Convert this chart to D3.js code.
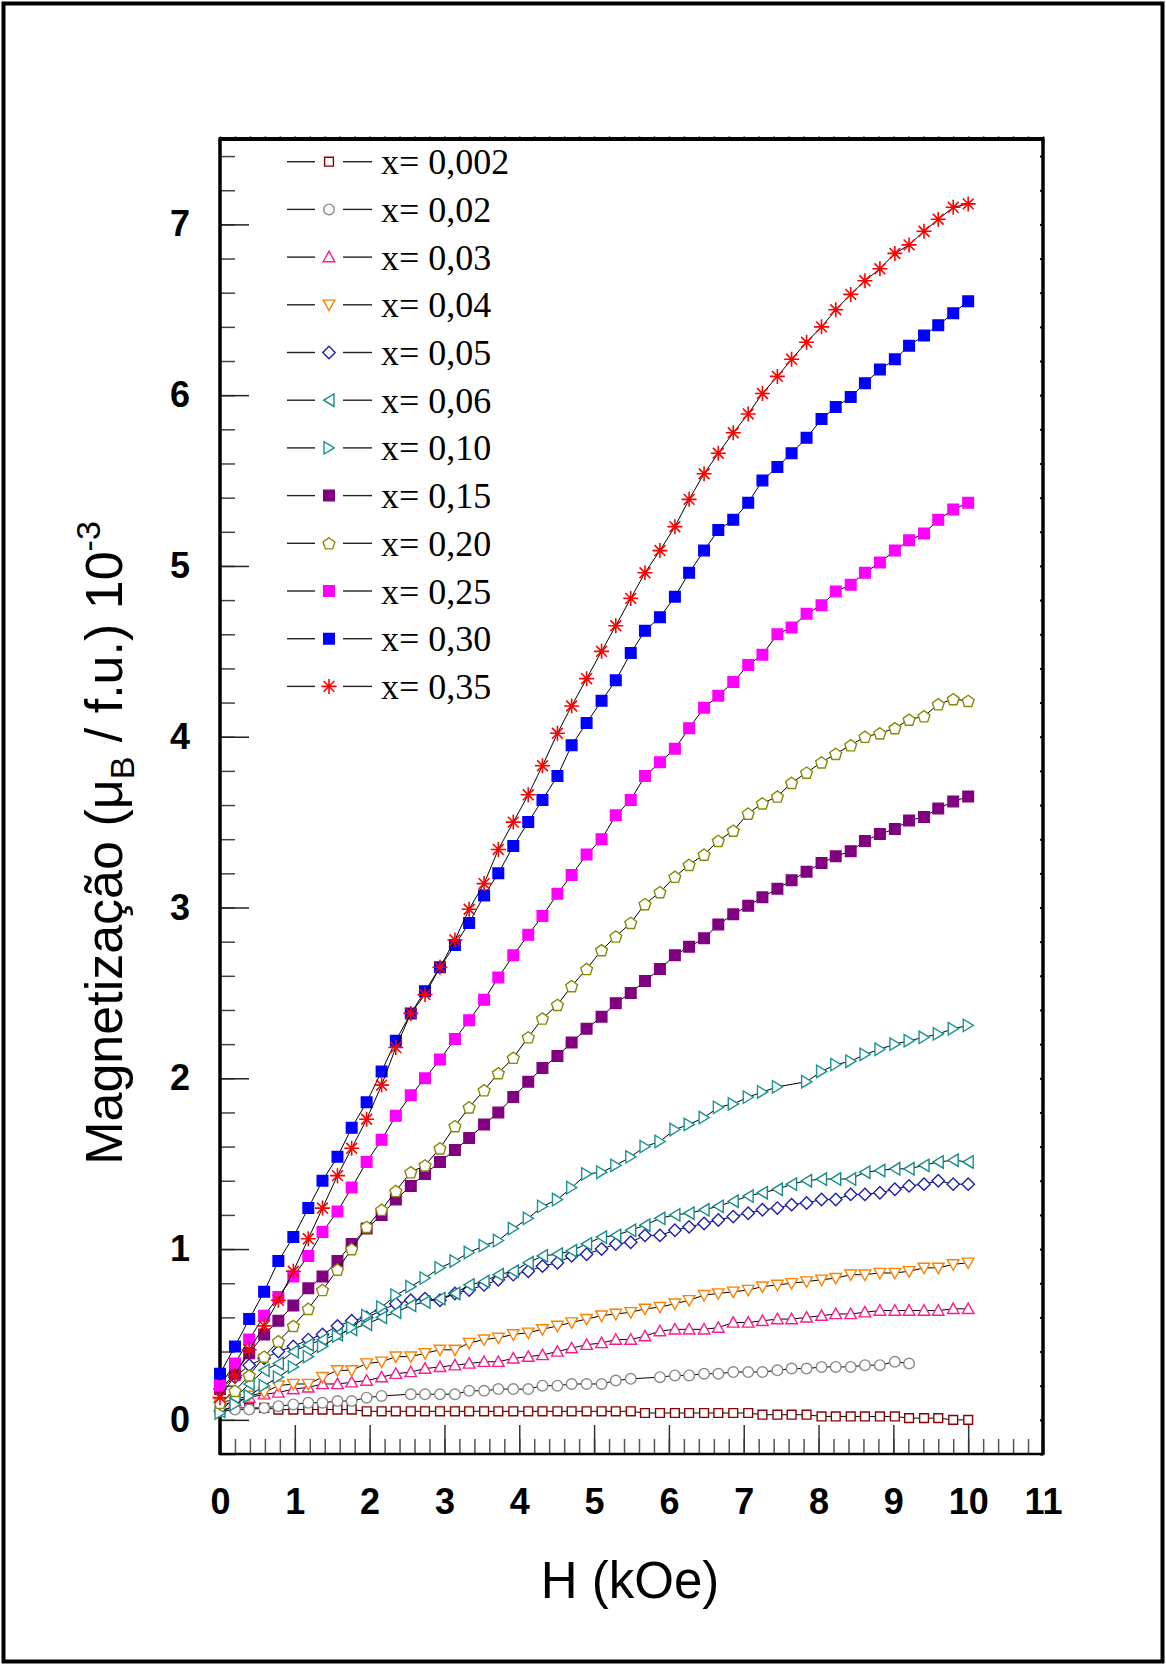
<!DOCTYPE html>
<html>
<head>
<meta charset="utf-8">
<script src="https://cdn.jsdelivr.net/npm/d3@7"></script>
<style>
  body { margin: 0; background: #fff; }
  svg { display: block; }
  .tick-label text { font-family: "Liberation Sans", Arial, sans-serif; font-weight: bold; font-size: 36px; fill: #000; }
</style>
</head>
<body>
<svg></svg>
<script>
// campo aplicado (kOe)
const field = [0.00,0.20,0.39,0.59,0.78,0.98,1.18,1.37,1.57,1.76,
  1.96,2.16,2.35,2.55,2.74,2.94,3.14,3.33,3.53,3.72,
  3.92,4.12,4.31,4.51,4.70,4.90,5.10,5.29,5.49,5.68,
  5.88,6.08,6.27,6.47,6.66,6.86,7.06,7.25,7.45,7.64,
  7.84,8.04,8.23,8.43,8.62,8.82,9.02,9.21,9.41,9.60,
  9.80,10.00];

// magnetizacao (10^-3 muB / f.u.), null = ponto ausente
const m002 = [0.06,0.07,0.07,0.07,0.06,0.06,0.06,0.06,0.06,0.06,
  0.05,0.05,0.05,0.05,0.05,0.05,0.05,0.05,0.05,0.05,
  0.05,0.05,0.05,0.05,0.05,0.05,0.05,0.05,0.05,0.04,
  0.04,0.04,0.04,0.04,0.04,0.04,0.04,0.03,0.03,0.03,
  0.03,0.02,0.02,0.02,0.02,0.02,0.02,0.01,0.01,0.01,
  0.00,0.00];
const m02 = [0.05,0.06,0.06,0.07,0.08,0.09,0.10,0.10,0.11,0.11,
  0.13,0.14,null,0.15,0.15,0.15,0.15,0.17,0.17,0.18,
  0.18,0.18,0.20,0.20,0.21,0.21,0.21,0.23,0.24,null,
  0.25,0.26,0.26,0.27,0.27,0.28,0.28,0.28,0.29,0.30,
  0.30,0.31,0.31,0.31,0.32,0.32,0.34,0.33];
const m03 = [0.08,0.11,0.13,0.15,0.16,0.18,0.19,0.21,0.21,0.22,
  0.23,0.25,0.27,0.28,0.30,0.31,0.32,0.33,0.34,0.34,
  0.36,0.37,0.38,0.40,0.42,0.44,0.45,0.47,0.47,0.49,
  0.52,0.53,0.53,0.53,0.54,0.57,0.57,0.58,0.59,0.59,
  0.60,0.61,0.62,0.62,0.63,0.64,0.64,0.64,0.64,0.64,
  0.65,0.65];
const m04 = [0.10,0.12,0.14,0.16,0.20,0.21,0.21,0.25,0.29,0.29,
  0.33,0.34,0.37,0.37,0.39,0.41,0.41,0.45,0.47,0.48,
  0.50,0.51,0.53,0.55,0.57,0.59,0.61,0.62,0.63,0.65,
  0.66,0.68,0.70,0.73,0.74,0.75,0.76,0.78,0.79,0.80,
  0.81,0.82,0.83,0.85,0.85,0.86,0.86,0.87,0.89,0.89,
  0.91,0.92];
const m05 = [0.18,0.25,0.32,0.36,0.40,0.43,0.47,0.50,0.55,0.58,
  0.60,0.64,0.68,0.70,0.71,0.70,0.74,0.76,0.79,0.82,
  0.85,0.87,0.90,0.92,0.96,0.97,1.00,1.03,1.04,1.08,
  1.08,1.11,1.13,1.15,1.17,1.19,1.21,1.23,1.24,1.26,
  1.27,1.29,1.29,1.32,1.32,1.33,1.35,1.37,1.38,1.40,
  1.38,1.38];
const m06 = [0.05,0.13,0.21,0.29,0.33,0.40,0.44,0.47,0.50,0.53,
  0.56,0.60,0.63,0.67,0.69,0.71,0.74,0.79,0.81,0.85,
  0.87,0.92,0.96,0.97,0.99,1.03,1.07,1.08,1.11,1.14,
  1.18,1.20,1.21,1.23,1.25,1.28,1.31,1.33,1.35,1.38,
  1.40,1.41,1.41,1.41,1.45,1.46,1.47,1.47,1.49,1.51,
  1.52,1.51];
const m10 = [0.04,0.09,0.14,0.20,0.25,0.31,0.37,0.43,0.49,0.54,
  0.61,0.66,0.73,0.78,0.83,0.89,0.93,0.98,1.02,1.05,
  1.12,1.18,1.25,1.29,1.36,1.44,1.45,1.49,1.54,1.60,
  1.63,1.70,1.73,1.77,1.83,1.85,1.89,1.92,1.95,null,
  1.98,2.04,2.08,2.10,2.14,2.17,2.20,2.22,2.24,2.26,
  2.29,2.31];
const m15 = [0.18,0.27,0.39,0.50,0.58,0.67,0.77,0.84,0.93,1.03,
  1.12,1.20,1.29,1.37,1.44,1.51,1.58,1.65,1.73,1.80,
  1.89,1.98,2.06,2.13,2.21,2.29,2.36,2.44,2.50,2.57,
  2.64,2.72,2.77,2.82,2.90,2.96,3.01,3.06,3.11,3.16,
  3.21,3.26,3.30,3.33,3.39,3.43,3.46,3.51,3.53,3.58,
  3.62,3.65];
const m20 = [0.10,0.17,0.26,0.37,0.46,0.55,0.65,0.76,0.88,1.00,
  1.13,1.23,1.34,1.45,1.49,1.59,1.72,1.83,1.93,2.03,
  2.12,2.24,2.35,2.43,2.54,2.64,2.75,2.83,2.91,3.02,
  3.09,3.18,3.25,3.31,3.39,3.45,3.55,3.61,3.65,3.73,
  3.79,3.85,3.90,3.95,4.00,4.02,4.05,4.10,4.12,4.19,
  4.22,4.21];
const m25 = [0.20,0.33,0.47,0.61,0.72,0.84,0.96,1.10,1.22,1.36,
  1.51,1.64,1.78,1.90,2.00,2.11,2.23,2.34,2.46,2.59,
  2.72,2.84,2.95,3.08,3.19,3.31,3.40,3.54,3.63,3.77,
  3.85,3.93,4.05,4.17,4.24,4.32,4.42,4.48,4.60,4.64,
  4.72,4.77,4.85,4.89,4.96,5.02,5.09,5.15,5.19,5.27,
  5.33,5.37];
const m30 = [0.27,0.43,0.59,0.75,0.93,1.07,1.24,1.40,1.54,1.71,
  1.86,2.04,2.22,2.38,2.51,2.65,2.78,2.91,3.07,3.20,
  3.36,3.50,3.63,3.77,3.95,4.08,4.21,4.33,4.49,4.62,
  4.70,4.82,4.96,5.09,5.21,5.27,5.37,5.50,5.58,5.66,
  5.75,5.86,5.93,5.99,6.07,6.15,6.21,6.29,6.35,6.41,
  6.48,6.55];
const m35 = [0.13,0.26,0.41,0.55,0.70,0.87,1.06,1.24,1.43,1.59,
  1.76,1.96,2.18,2.38,2.49,2.65,2.81,2.99,3.14,3.34,
  3.50,3.66,3.83,4.02,4.18,4.34,4.50,4.65,4.81,4.96,
  5.09,5.23,5.39,5.54,5.66,5.78,5.89,6.01,6.11,6.21,
  6.31,6.40,6.50,6.59,6.67,6.74,6.83,6.88,6.96,7.03,
  7.10,7.12];

const labels = ['x= 0,002', 'x= 0,02', 'x= 0,03', 'x= 0,04', 'x= 0,05', 'x= 0,06',
  'x= 0,10', 'x= 0,15', 'x= 0,20', 'x= 0,25', 'x= 0,30', 'x= 0,35'];
const seriesValues = [m002, m02, m03, m04, m05, m06, m10, m15, m20, m25, m30, m35];
const yTicks = [0, 1, 2, 3, 4, 5, 6, 7];
const xTicks = [0, 1, 2, 3, 4, 5, 6, 7, 8, 9, 10, 11];

(function (d3) {
  'use strict';

  const width = 1166;
  const height = 1665;
  const svg = d3.select('svg').attr('width', width).attr('height', height);

  const margin = { top: 139, right: 123, bottom: 211, left: 220 };
  const innerWidth = width - margin.left - margin.right;
  const innerHeight = height - margin.top - margin.bottom;

  const xScale = d3.scaleLinear().domain([0, 11]).range([0, innerWidth]);
  const yScale = d3.scaleLinear().domain([-0.2, 7.5]).range([innerHeight, 0]);

  // moldura externa
  svg.append('rect')
      .attr('x', 3.5).attr('y', 3.5)
      .attr('width', 1159).attr('height', 1658)
      .attr('fill', 'none').attr('stroke', '#000').attr('stroke-width', 4);

  const g = svg.append('g')
      .attr('transform', `translate(${margin.left},${margin.top})`);

  const minorY = d3.range(-0.2, 7.45, 0.2).map(v => +v.toFixed(1));
  const minorX = d3.range(0, 11.01, 0.2).map(v => +v.toFixed(1));

  const styleAxis = (sel, color, w) => {
    sel.select('.domain').remove();
    sel.selectAll('line').attr('stroke', color).attr('stroke-width', w);
  };

  // eixo y: ticks menores, maiores e rotulos
  g.append('g')
      .call(d3.axisRight(yScale).tickValues(minorY).tickSize(15).tickFormat(''))
      .call(styleAxis, '#444', 1.5);
  g.append('g')
      .call(d3.axisRight(yScale).tickValues(yTicks).tickSize(29).tickFormat(''))
      .call(styleAxis, '#222', 1.5);
  g.append('g')
      .attr('class', 'tick-label')
      .call(d3.axisLeft(yScale).tickValues(yTicks).tickSize(0).tickPadding(30).tickFormat(d3.format('d')))
      .call(sel => sel.select('.domain').remove());

  // eixo direito, ticks curtos
  g.append('g')
      .attr('transform', `translate(${innerWidth},0)`)
      .call(d3.axisLeft(yScale).tickValues(minorY).tickSize(3).tickFormat(''))
      .call(styleAxis, '#000', 2);

  // eixo x
  g.append('g')
      .attr('transform', `translate(0,${innerHeight})`)
      .call(d3.axisTop(xScale).tickValues(minorX).tickSize(15).tickFormat(''))
      .call(styleAxis, '#555', 1.5);
  g.append('g')
      .attr('transform', `translate(0,${innerHeight})`)
      .call(d3.axisTop(xScale).tickValues(xTicks.slice(0, -1)).tickSize(29).tickFormat(''))
      .call(styleAxis, '#333', 1.5);
  g.append('g')
      .attr('class', 'tick-label')
      .attr('transform', `translate(0,${innerHeight})`)
      .call(d3.axisBottom(xScale).tickValues(xTicks).tickSize(0).tickPadding(34).tickFormat(d3.format('d')))
      .call(sel => sel.select('.domain').remove());

  // eixo de cima, ticks curtos
  g.append('g')
      .call(d3.axisTop(xScale).tickValues(minorX).tickSize(3).tickFormat(''))
      .call(styleAxis, '#777', 1.5);

  // bordas do grafico
  const border = [
    { x1: 0, y1: 0, x2: 0, y2: innerHeight, w: 3.5 },
    { x1: -1.5, y1: 0, x2: innerWidth + 1.5, y2: 0, w: 4 },
    { x1: innerWidth, y1: 0, x2: innerWidth, y2: innerHeight, w: 3.5 },
    { x1: -1.5, y1: innerHeight, x2: innerWidth + 1.5, y2: innerHeight, w: 2.5 }
  ];
  g.selectAll('.border').data(border)
    .enter().append('line')
      .attr('x1', d => d.x1).attr('y1', d => d.y1)
      .attr('x2', d => d.x2).attr('y2', d => d.y2)
      .attr('stroke', '#000').attr('stroke-width', d => d.w);

  // simbolos
  const shapePath = {
    square: r => `M${-r},${-r}H${r}V${r}H${-r}Z`,
    circle: r => `M${r},0A${r},${r} 0 1,1 ${-r},0A${r},${r} 0 1,1 ${r},0Z`,
    up: r => `M0,${-r}L${r},${r * 0.8}L${-r},${r * 0.8}Z`,
    down: r => `M0,${r}L${r},${-r * 0.8}L${-r},${-r * 0.8}Z`,
    left: r => `M${-r * 0.85},0L${r * 0.8},${-r}L${r * 0.8},${r}Z`,
    right: r => `M${r * 0.85},0L${-r * 0.8},${-r}L${-r * 0.8},${r}Z`,
    diamond: r => `M0,${-r}L${r},0L0,${r}L${-r},0Z`,
    pentagon: r => 'M' + d3.range(5).map(k => {
      const a = -Math.PI / 2 + k * 2 * Math.PI / 5;
      return `${(r * Math.cos(a)).toFixed(2)},${(r * Math.sin(a) + 0.6).toFixed(2)}`;
    }).join('L') + 'Z',
    asterisk: r => {
      const q = r * 0.72;
      return `M${-r},0H${r}M0,${-r}V${r}M${-q},${-q}L${q},${q}M${q},${-q}L${-q},${q}`;
    }
  };

  const styles = [
    { shape: 'square', r: 4.4, color: '#8b0000', filled: false },
    { shape: 'circle', r: 5.3, color: '#8a8a8a', filled: false },
    { shape: 'up', r: 5.8, color: '#ff1a8c', filled: false },
    { shape: 'down', r: 5.8, color: '#ff8000', filled: false },
    { shape: 'diamond', r: 6.2, color: '#1e1eb4', filled: false },
    { shape: 'left', r: 6.2, color: '#168a8a', filled: false },
    { shape: 'right', r: 6.2, color: '#1a9494', filled: false },
    { shape: 'square', r: 5.3, color: '#800080', filled: true },
    { shape: 'pentagon', r: 6.2, color: '#8a8a00', filled: false },
    { shape: 'square', r: 5.3, color: '#ff00ff', filled: true },
    { shape: 'square', r: 5.3, color: '#0000ff', filled: true },
    { shape: 'asterisk', r: 7.5, color: '#ff0000', filled: false }
  ];

  const drawMarker = (sel, st) => sel
      .attr('d', shapePath[st.shape](st.r))
      .attr('fill', st.filled ? st.color : (st.shape === 'asterisk' ? 'none' : '#fff'))
      .attr('stroke', st.color)
      .attr('stroke-width', st.shape === 'asterisk' ? 1.6 : 1.4);

  const lineGenerator = d3.line()
      .x(d => xScale(d.h))
      .y(d => yScale(d.m));

  seriesValues.forEach((values, i) => {
    const st = styles[i];
    const points = values
      .map((m, k) => ({ h: field[k], m: m }))
      .filter(d => d.m !== null);

    const sg = g.append('g');
    sg.append('path')
        .datum(points)
        .attr('d', lineGenerator)
        .attr('fill', 'none')
        .attr('stroke', '#000')
        .attr('stroke-width', 1);

    sg.selectAll('path.marker').data(points)
      .enter().append('path')
        .attr('class', 'marker')
        .attr('transform', d => `translate(${xScale(d.h)},${yScale(d.m)})`)
        .call(drawMarker, st);
  });

  // legenda
  const legend = svg.append('g').selectAll('g').data(labels)
    .enter().append('g')
      .attr('transform', (d, i) => `translate(0,${161.7 + i * 47.7})`);

  legend.append('line')
      .attr('x1', 287).attr('x2', 315)
      .attr('stroke', '#222').attr('stroke-width', 1.4);
  legend.append('line')
      .attr('x1', 343).attr('x2', 372)
      .attr('stroke', '#222').attr('stroke-width', 1.4);
  legend.append('path')
      .attr('transform', 'translate(329,0)')
      .each(function (d, i) { d3.select(this).call(drawMarker, styles[i]); });
  legend.append('text')
      .attr('x', 381)
      .attr('y', 12.5)
      .attr('font-family', '"Liberation Serif", "Times New Roman", serif')
      .attr('font-size', 36)
      .attr('fill', '#000')
      .text(d => d);

  // titulos dos eixos
  svg.append('text')
      .attr('x', 630)
      .attr('y', 1598)
      .attr('text-anchor', 'middle')
      .attr('font-family', '"Liberation Sans", Arial, sans-serif')
      .attr('font-size', 51)
      .text('H (kOe)');

  const yTitle = svg.append('text')
      .attr('transform', 'translate(122,843) rotate(-90)')
      .attr('text-anchor', 'middle')
      .attr('font-family', '"Liberation Sans", Arial, sans-serif')
      .attr('font-size', 52);
  yTitle.append('tspan').text('Magnetização (μ');
  yTitle.append('tspan').attr('font-size', 34).attr('dy', 12).text('B');
  yTitle.append('tspan').attr('dy', -12).text(' / f.u.) 10');
  yTitle.append('tspan').attr('font-size', 34).attr('dy', -22).text('-3');

}(d3));
</script>
</body>
</html>
